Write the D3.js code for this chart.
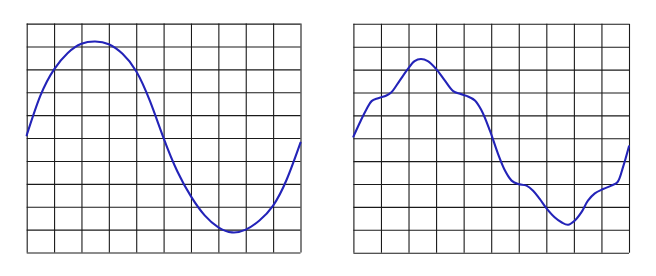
<!DOCTYPE html>
<html>
<head>
<meta charset="utf-8">
<script src="https://cdn.jsdelivr.net/npm/d3@7"></script>
<style>
  html, body { margin: 0; padding: 0; background: #fff; }
  svg { display: block; }
</style>
</head>
<body>
<svg id="chart" width="656" height="276"></svg>
<script>
// Grid tick values (grid divisions)
const xTicks = [0, 1, 2, 3, 4, 5, 6, 7, 8, 9, 10];
const yTicks = [-5, -4, -3, -2, -1, 0, 1, 2, 3, 4, 5];

// Left panel: pure sine wave (x in divisions, y in divisions)
const leftX = [0, 0.5, 1, 1.5, 2, 2.5, 3, 3.5, 4, 4.5, 5, 5.5, 6, 6.5, 7, 7.5, 8, 8.5, 9, 9.5, 10];
const leftY = [0.12, 1.85, 3.0, 3.72, 4.12, 4.22, 4.1, 3.68, 2.92, 1.62, 0.0, -1.45, -2.55, -3.38, -3.9, -4.12, -4.0, -3.6, -2.95, -1.8, -0.2];

// Right panel: distorted wave
const rightX = [0, 0.24, 0.48, 0.66, 0.9, 1.2, 1.38, 1.68, 1.98, 2.22, 2.45, 2.7, 3.0, 3.3, 3.62, 3.87, 4.11, 4.41, 4.65, 4.95, 5.25, 5.5, 5.74, 5.98, 6.28, 6.52, 6.76, 7.0, 7.3, 7.55, 7.79, 8.03, 8.27, 8.51, 8.76, 9.06, 9.36, 9.58, 9.78, 10];
const rightY = [0.07, 0.7, 1.28, 1.62, 1.75, 1.87, 2.01, 2.52, 3.03, 3.37, 3.46, 3.37, 3.03, 2.55, 2.06, 1.94, 1.85, 1.65, 1.21, 0.34, -0.69, -1.41, -1.85, -2.0, -2.07, -2.29, -2.65, -3.05, -3.45, -3.67, -3.78, -3.6, -3.24, -2.73, -2.41, -2.22, -2.07, -1.92, -1.27, -0.35];

const svg = d3.select("#chart");

const panels = [
  { x0: 26.7, x1: 300.5, y0: 23.6, y1: 252.5, xs: leftX, ys: leftY, curve: d3.curveNatural },
  { x0: 353.4, x1: 629.0, y0: 23.8, y1: 252.7, xs: rightX, ys: rightY, curve: d3.curveCatmullRom.alpha(0.5) }
];

panels.forEach(p => {
  const x = d3.scaleLinear().domain([0, 10]).range([p.x0, p.x1]);
  const y = d3.scaleLinear().domain([-5, 5]).range([p.y1, p.y0]);
  const g = svg.append("g");

  // vertical grid lines via axis
  const gx = g.append("g")
    .attr("transform", `translate(0,${p.y1})`)
    .call(d3.axisBottom(x).tickValues(xTicks).tickSize(-(p.y1 - p.y0)).tickFormat(""));
  gx.select(".domain").remove();
  gx.selectAll(".tick line").attr("stroke", "#1a1a1a").attr("stroke-width", 1.1);

  // horizontal grid lines via axis
  const gy = g.append("g")
    .attr("transform", `translate(${p.x0},0)`)
    .call(d3.axisLeft(y).tickValues(yTicks).tickSize(-(p.x1 - p.x0)).tickFormat(""));
  gy.select(".domain").remove();
  gy.selectAll(".tick line").attr("stroke", "#1a1a1a").attr("stroke-width", 1.1);

  const data = p.xs.map((v, i) => [v, p.ys[i]]);
  const line = d3.line()
    .x(d => x(d[0]))
    .y(d => y(d[1]))
    .curve(p.curve);

  g.append("path")
    .datum(data)
    .attr("fill", "none")
    .attr("stroke", "#2323b8")
    .attr("stroke-width", 2.1)
    .attr("stroke-linejoin", "round")
    .attr("stroke-linecap", "round")
    .attr("d", line);
});
</script>
</body>
</html>
